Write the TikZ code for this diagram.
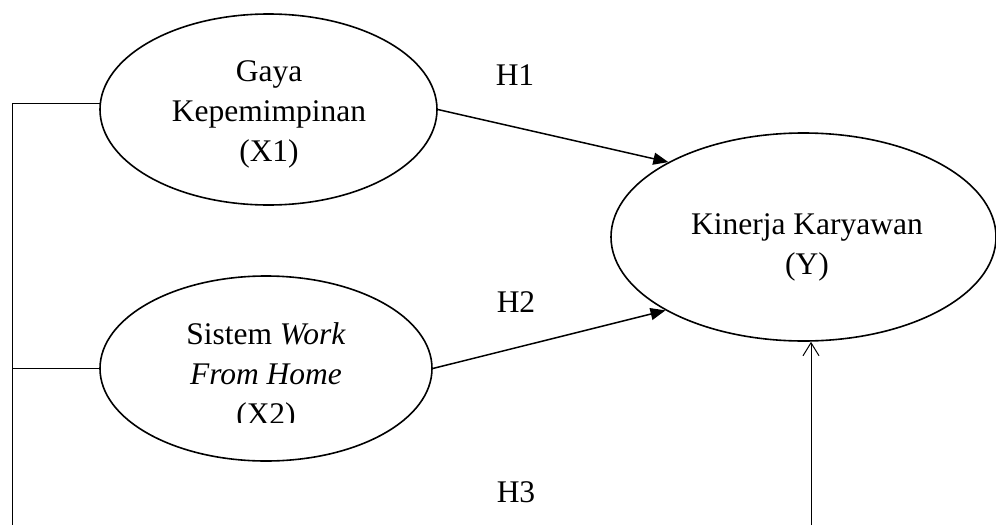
\documentclass[tikz,border=0pt]{standalone}
\usepackage{fontspec}
\setmainfont{Liberation Serif}
\usetikzlibrary{shapes.geometric,arrows.meta}
\begin{document}
\begin{tikzpicture}[x=1pt,y=-1pt,
  var/.style={draw,ellipse,line width=1.6pt,inner sep=0pt},
  txt/.style={anchor=base,align=center,font=\fontsize{31.5}{40}\selectfont,inner sep=0pt},
  hyp/.style={-{Triangle[length=15pt,width=12pt]},line width=1.5pt},
  link/.style={line width=1pt}]
\useasboundingbox (0,0) rectangle (996,525);
\node[var,minimum width=337pt,minimum height=191pt] (x1) at (268.5,109.5) {};
\node[var,minimum width=332pt,minimum height=185pt] (x2) at (266,368.5) {};
\node[var,minimum width=385pt,minimum height=208pt] (y) at (803.5,237) {};
\node[txt] (x1t) at (269,161) {Gaya\\Kepemimpinan\\(X1)};
\node[txt] (yt) at (807,274) {Kinerja Karyawan\\(Y)};
\begin{scope}
\clip (0,0) rectangle (996,422);
\node[txt] (x2t) at (266,424) {Sistem \textit{Work}\\\textit{From Home}\\(X2)};
\end{scope}
\node[txt] (h1) at (515,85) {H1};
\node[txt] (h2) at (516,312) {H2};
\node[txt] (h3) at (516,502) {H3};
\draw[hyp] (x1.east) -- (y.151.4);
\draw[hyp] (x2.east) -- (y.208);
\coordinate (lb) at (12,525);
\coordinate (yb) at (811,525);
\draw[link] (x1.178) -| (lb);
\draw[link] (x2.west) -- (x2.west -| lb);
\draw[link,-{Straight Barb[length=13pt,width=16pt]}] (yb) -- (yb |- y.south);
\end{tikzpicture}
\end{document}
